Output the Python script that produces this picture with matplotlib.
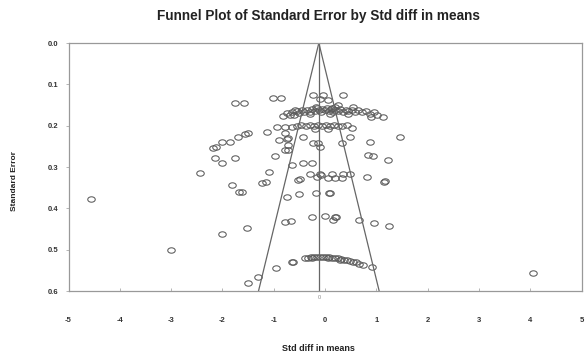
import numpy as np
import matplotlib
matplotlib.use("Agg")
import matplotlib.pyplot as plt
from matplotlib.path import Path

plt.rcParams['font.family'] = ['Liberation Sans', 'DejaVu Sans']

# ---- data ----
smd = [
    -1.75, -1.58, -1.01, -0.86,
    -0.23, -0.04, -0.10, 0.06, 0.35, 0.14, 0.25,
    -0.58, -0.68, -0.82,
    -0.75, -0.65, -0.55, -0.50, -0.45, -0.40, -0.35, -0.30, -0.25, -0.20, -0.15, -0.12,
    -0.08, -0.05, 0.00, 0.03, 0.08, 0.12, 0.16, 0.20, 0.25, 0.30, 0.35, 0.40, 0.45, 0.52,
    0.58, 0.65, 0.72, 0.80, 0.88, 0.95, 1.02, 0.90, 1.13, -0.30, 0.10, 0.45, -0.60, 0.20,
    -0.18, 0.55,
    -0.94, -0.78, -0.64, -0.55, -0.47, -0.38, -0.30, -0.22, -0.14, -0.06, 0.02, 0.10,
    0.18, 0.26, 0.34, 0.42, 0.53, -0.20, 0.05,
    -1.13, -1.50, -1.56, -1.70, -1.85, -2.01, -2.12, -2.18,
    -0.90, -0.74, -0.78, -0.72, -0.72,
    -0.43, -0.23, -0.14, -0.10, 0.33, 0.49, 0.88, 1.46,
    -2.14, -2.01, -1.75,
    -0.97, -0.78, -0.72,
    0.84, 0.94, 1.23,
    -0.64, -0.43, -0.25,
    -2.44, -1.09,
    -0.29, -0.10, -0.08, 0.14, 0.35, 0.49, -0.49, -0.16, 0.06, 0.19, 0.33, 0.82, 1.15,
    1.17, -0.53,
    -1.81, -1.68, -1.62, -1.23, -1.15,
    -0.74, -0.50, -0.18, 0.08, 0.10,
    -4.56,
    -0.78, -0.66, -0.25, 0.00, 0.19, 0.22, 0.16, 0.66, 0.96, 1.25,
    -2.01, -1.52,
    -3.00,
    -0.64, -0.63, -0.39, -0.33, -0.28, -0.22, -0.16, -0.10, -0.04, 0.02, 0.08, 0.14,
    0.20, 0.26, 0.32, 0.37, 0.43, 0.49, 0.55, 0.61, 0.67, 0.74, 0.92, -0.25, 0.05, 0.30,
    -0.96, -1.31, -1.50, 4.05,
]
std_err = [
    0.145, 0.145, 0.133, 0.133,
    0.126, 0.126, 0.135, 0.138, 0.126, 0.157, 0.150,
    0.162, 0.174, 0.177,
    0.170, 0.166, 0.165, 0.170, 0.163, 0.168, 0.162, 0.167, 0.160, 0.165, 0.158, 0.163,
    0.168, 0.160, 0.163, 0.158, 0.165, 0.160, 0.167, 0.162, 0.165, 0.160, 0.168, 0.163,
    0.165, 0.162, 0.168, 0.163, 0.167, 0.165, 0.172, 0.168, 0.174, 0.178, 0.180, 0.172,
    0.172, 0.172, 0.175, 0.155, 0.155, 0.155,
    0.203, 0.203, 0.203, 0.200, 0.198, 0.202, 0.198, 0.201, 0.198, 0.200, 0.198, 0.201,
    0.198, 0.200, 0.202, 0.199, 0.205, 0.207, 0.207,
    0.215, 0.218, 0.220, 0.227, 0.240, 0.240, 0.252, 0.254,
    0.235, 0.232, 0.218, 0.230, 0.247,
    0.227, 0.242, 0.242, 0.252, 0.242, 0.227, 0.240, 0.227,
    0.278, 0.290, 0.278,
    0.273, 0.259, 0.259,
    0.271, 0.273, 0.283,
    0.295, 0.290, 0.290,
    0.315, 0.312,
    0.317, 0.317, 0.319, 0.317, 0.317, 0.317, 0.329, 0.324, 0.327, 0.327, 0.327, 0.324,
    0.336, 0.334, 0.331,
    0.344, 0.360, 0.360, 0.339, 0.336,
    0.373, 0.365, 0.363, 0.363, 0.363,
    0.378,
    0.433, 0.431, 0.421, 0.419, 0.421, 0.421, 0.428, 0.428, 0.436, 0.443,
    0.462, 0.448,
    0.500,
    0.530, 0.531, 0.520, 0.519, 0.518, 0.518, 0.517, 0.517, 0.517, 0.518, 0.518, 0.519,
    0.520, 0.521, 0.522, 0.524, 0.525, 0.527, 0.529, 0.531, 0.534, 0.536, 0.542, 0.520,
    0.520, 0.524,
    0.544, 0.566, 0.581, 0.557,
]
pooled_mean = -0.12
se_max = 0.6
x_ticks = [-5, -4, -3, -2, -1, 0, 1, 2, 3, 4, 5]
y_ticks = [0.0, 0.1, 0.2, 0.3, 0.4, 0.5, 0.6]

# ---- figure ----
fig = plt.figure(figsize=(5.85, 3.54), dpi=100)
ax = fig.add_axes([68.5 / 585, (354 - 291) / 354, 513 / 585, (291 - 43) / 354])

circ = Path.unit_circle()
ell = Path(circ.vertices * np.array([1.0, 0.72]), circ.codes)

ax.plot(smd, std_err, linestyle='none', marker=ell, markersize=5.4,
        markerfacecolor='none', markeredgecolor='#5a5a5a', markeredgewidth=0.75)

# funnel and mean line
ax.plot([pooled_mean, pooled_mean], [0, se_max], color='#666666', lw=0.9)
ax.plot([pooled_mean, pooled_mean - 1.96 * se_max], [0, se_max], color='#666666', lw=0.9)
ax.plot([pooled_mean, pooled_mean + 1.96 * se_max], [0, se_max], color='#666666', lw=0.9)

ax.set_xlim(-5, 5)
ax.set_ylim(se_max, 0)
ax.set_xticks(x_ticks)
ax.set_xticklabels([str(t) for t in x_ticks])
ax.set_yticks(y_ticks)
ax.set_yticklabels([f"{t:.1f}" for t in y_ticks])

for s in ax.spines.values():
    s.set_color('#999999')
    s.set_linewidth(0.9)

ax.tick_params(axis='x', direction='in', length=2, width=0.6, color='#aaaaaa',
               pad=19, labelsize=5.5, labelcolor='#333333')
ax.tick_params(axis='y', direction='out', length=2, width=0.6, color='#aaaaaa',
               pad=5, labelsize=5.5, labelcolor='#333333')
for lab in ax.get_xticklabels() + ax.get_yticklabels():
    lab.set_fontweight('bold')

ax.text(pooled_mean, se_max + 0.01, "0", ha='center', va='top', fontsize=4,
        color='#888888')

fig.text(0.545, 0.955, "Funnel Plot of Standard Error by Std diff in means",
         ha='center', va='center', fontsize=9.8, fontweight='bold', color='#222222')
fig.text(0.545, 0.015, "Std diff in means", ha='center', va='center',
         fontsize=6.5, fontweight='bold', color='#222222')
fig.text(0.025, 0.49, "Standard Error", ha='center', va='center', rotation=90,
         fontsize=6, fontweight='bold', color='#222222')

fig.savefig("out.png", dpi=100, facecolor='white')
